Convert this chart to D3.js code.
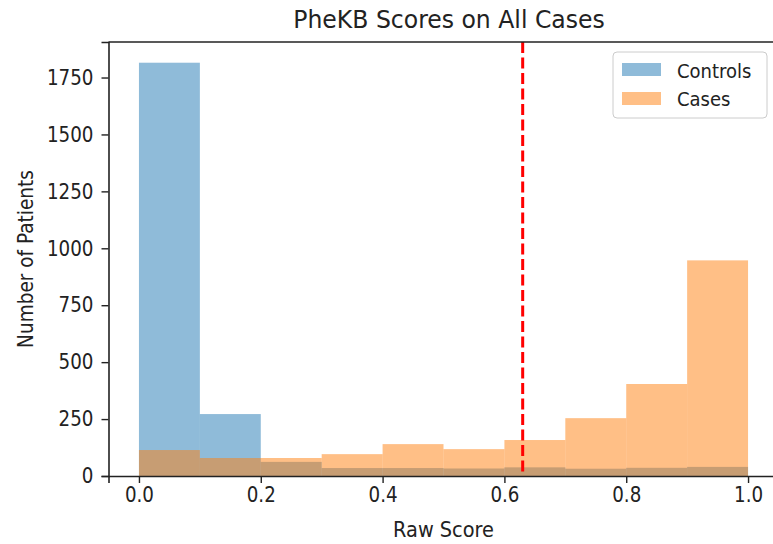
<!DOCTYPE html>
<html><head><meta charset="utf-8">
<script src="https://cdn.jsdelivr.net/npm/d3@7"></script>
<style>body{margin:0;background:#fff}svg{display:block}text{font-family:"DejaVu Sans",sans-serif;fill:#222}</style>
</head><body><svg id="c" width="773" height="544"></svg>
<script>
const binEdges = [0,0.1,0.2,0.3,0.4,0.5,0.6,0.7,0.8,0.9,1.0];
const controls = [1815, 272, 62, 35, 35, 33, 38, 32, 36, 40];
const cases = [114, 79, 79, 96, 140, 118, 158, 254, 404, 947];
const threshold = 0.63;
const xTicks = [0,0.2,0.4,0.6,0.8,1.0];
const yTicks = [0,250,500,750,1000,1250,1500,1750];
const seriesNames = ["Controls","Cases"];
const colors = ["#1f77b4","#ff7f0e"];

const svg = d3.select("#c");
const L = 108.5, R = 778.5, T = 42, B = 476;
const x = d3.scaleLinear().domain([-0.05,1.05]).range([L,R]);
const y = d3.scaleLinear().domain([0,1906]).range([B,T]);

// condense text horizontally (reference font is narrower)
function squeeze(sel, k){
  sel.each(function(){
    const w = this.getComputedTextLength();
    d3.select(this).attr("textLength", w*k).attr("lengthAdjust","spacingAndGlyphs");
  });
}

[controls, cases].forEach((vals,si)=>{
  svg.append("g").selectAll("rect").data(vals).join("rect")
    .attr("x",(d,i)=>x(binEdges[i]))
    .attr("width",(d,i)=>x(binEdges[i+1])-x(binEdges[i]))
    .attr("y",d=>y(d)).attr("height",d=>B-y(d))
    .attr("fill",colors[si]).attr("fill-opacity",0.5);
});

svg.append("line").attr("x1",x(threshold)).attr("x2",x(threshold))
  .attr("y1",T).attr("y2",B).attr("stroke","#ff0000").attr("stroke-width",3)
  .attr("stroke-dasharray","11,4.5");

const xa = svg.append("g").attr("transform",`translate(0,${B})`)
  .call(d3.axisBottom(x).tickValues(xTicks).tickFormat(d3.format(".1f")).tickSize(7).tickPadding(4));
const ya = svg.append("g").attr("transform",`translate(${L},0)`)
  .call(d3.axisLeft(y).tickValues(yTicks).tickFormat(d3.format("d")).tickSize(7).tickPadding(8));
[xa,ya].forEach(a=>{
  a.selectAll("text").style("font-size","21px").attr("fill","#222");
  a.selectAll("line").attr("stroke","#222").attr("stroke-width",1.4);
  a.select(".domain").attr("stroke","#222").attr("stroke-width",1.6);
  squeeze(a.selectAll("text"),0.87);
});
// top spine
svg.append("line").attr("x1",L).attr("x2",R).attr("y1",T).attr("y2",T).attr("stroke","#222").attr("stroke-width",1.6);

svg.append("text").attr("x",449).attr("y",28).attr("text-anchor","middle")
  .style("font-size","24px").text("PheKB Scores on All Cases").call(squeeze,0.98);
svg.append("text").attr("x",(L+R)/2).attr("y",537).attr("text-anchor","middle")
  .style("font-size","21px").text("Raw Score").call(squeeze,0.92);
svg.append("text").attr("transform","translate(33,"+((T+B)/2)+") rotate(-90)").attr("text-anchor","middle")
  .style("font-size","21px").text("Number of Patients").call(squeeze,0.88);

const lg = svg.append("g");
lg.append("rect").attr("x",613).attr("y",52).attr("width",154).attr("height",66).attr("rx",4)
  .attr("fill","#fff").attr("fill-opacity",0.8).attr("stroke","#ccc");
seriesNames.forEach((n,i)=>{
  lg.append("rect").attr("x",622).attr("y",63+i*29).attr("width",39).attr("height",13)
    .attr("fill",colors[i]).attr("fill-opacity",0.5);
  lg.append("text").attr("x",677).attr("y",78+i*28).style("font-size","20px").text(n).call(squeeze,0.9);
});
</script></body></html>
